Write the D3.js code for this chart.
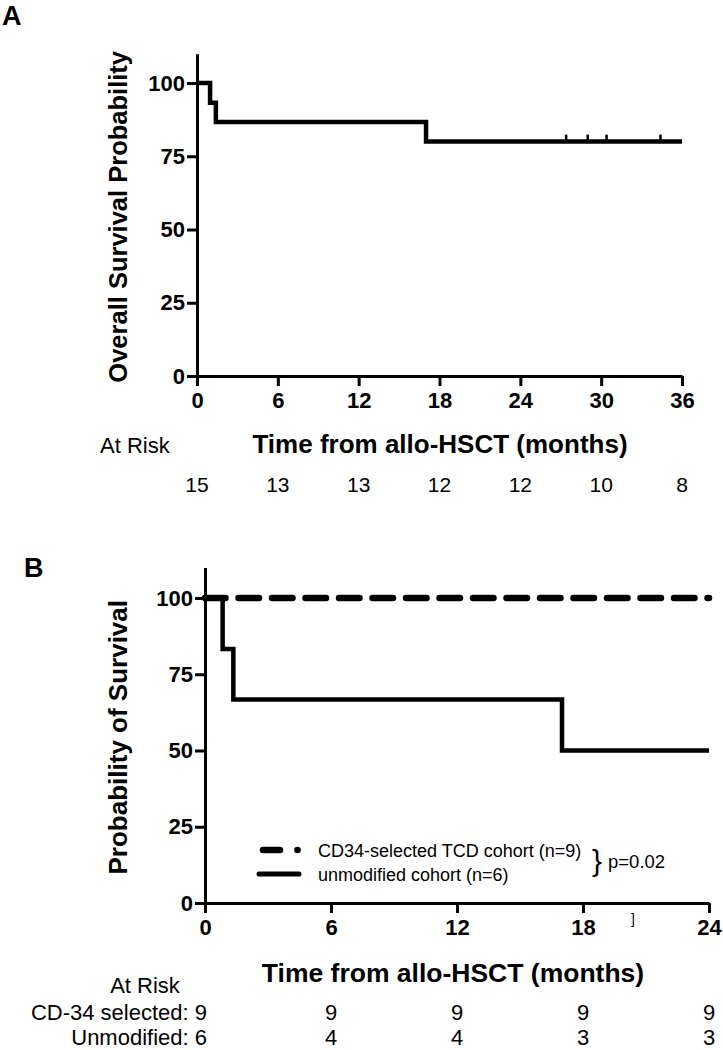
<!DOCTYPE html>
<html>
<head>
<meta charset="utf-8">
<script src="https://cdn.jsdelivr.net/npm/d3@7"></script>
<style>
  html, body { margin: 0; padding: 0; background: #fff; }
  svg { display: block; font-family: "Liberation Sans", Arial, Helvetica, sans-serif; }
</style>
</head>
<body>
<svg id="chart" width="723" height="1050"></svg>
<script>
// ---------- DATA ----------
// Panel A: overall survival (all patients)
const timesA = [0, 0.97, 1.4, 17.0, 36];
const survA = [100, 93.3, 86.7, 80, 80];
const censorA = [27.4, 29.0, 30.4, 34.4];
const xTicksA = [0, 6, 12, 18, 24, 30, 36];
const atRiskA = [15, 13, 13, 12, 12, 10, 8];

// Panel B: by cohort
const timesTCD = [0, 24];
const survTCD = [100, 100];
const timesUnmod = [0, 0.84, 1.35, 17.0, 24];
const survUnmod = [100, 83.3, 66.7, 50, 50];
const xTicksB = [0, 6, 12, 18, 24];
const atRiskCD34 = [9, 9, 9, 9, 9];
const atRiskUnmod = [6, 4, 4, 3, 3];
const riskRowLabels = ["CD-34 selected: ", "Unmodified: "];
const legendLabels = ["CD34-selected TCD cohort (n=9)", "unmodified cohort (n=6)"];
const pValue = "p=0.02";

const yTicks = [0, 25, 50, 75, 100];

// ---------- DRAW ----------
const svg = d3.select("#chart");

function drawAxes(g, x, y, xTicks) {
  const xa = g.append("g")
    .attr("transform", `translate(0,${y(0)})`)
    .call(d3.axisBottom(x).tickValues(xTicks).tickSizeInner(10).tickSizeOuter(0).tickPadding(6));
  const ya = g.append("g")
    .attr("transform", `translate(${x(0)},0)`)
    .call(d3.axisLeft(y).tickValues(yTicks).tickSizeInner(10).tickSizeOuter(0).tickPadding(2));
  [xa, ya].forEach(a => {
    a.select(".domain").attr("stroke", "#000").attr("stroke-width", 3);
    a.selectAll(".tick line").attr("stroke", "#000").attr("stroke-width", 3);
    a.selectAll(".tick text").attr("fill", "#000")
      .style("font-size", "22px").style("font-weight", "bold")
      .style("font-family", '"Liberation Sans", Arial, sans-serif');
  });
  return { xa, ya };
}

// ----- Panel A -----
const xA = d3.scaleLinear().domain([0, 36]).range([197, 682]);
const yA = d3.scaleLinear().domain([0, 110]).range([376, 53.7]);
const gA = svg.append("g");

svg.append("text").attr("x", 2).attr("y", 25)
  .style("font-size", "27px").style("font-weight", "bold").text("A");

drawAxes(gA, xA, yA, xTicksA);

const lineA = d3.line().x(d => xA(d[0])).y(d => yA(d[1])).curve(d3.curveStepAfter);
gA.append("path")
  .datum(timesA.map((t, i) => [t, survA[i]]))
  .attr("d", lineA).attr("fill", "none").attr("stroke", "#000")
  .attr("stroke-width", 4.5).attr("stroke-linejoin", "miter");

// censor marks
function survAt(t) {
  let v = survA[0];
  timesA.forEach((tt, i) => { if (tt <= t) v = survA[i]; });
  return v;
}
gA.selectAll(".cens").data(censorA).enter().append("line")
  .attr("x1", d => xA(d)).attr("x2", d => xA(d))
  .attr("y1", d => yA(survAt(d)) - 7).attr("y2", d => yA(survAt(d)))
  .attr("stroke", "#000").attr("stroke-width", 2.5);

gA.append("text")
  .attr("transform", `translate(127,${(yA(0) + yA(110)) / 2 + 2}) rotate(-90)`)
  .attr("text-anchor", "middle")
  .style("font-size", "25.5px").style("font-weight", "bold")
  .text("Overall Survival Probability");

gA.append("text").attr("x", 440).attr("y", 453).attr("text-anchor", "middle")
  .style("font-size", "26px").style("font-weight", "bold")
  .text("Time from allo-HSCT (months)");
gA.append("text").attr("x", 100).attr("y", 453)
  .style("font-size", "22px").text("At Risk");
gA.selectAll(".riskA").data(atRiskA).enter().append("text")
  .attr("x", (d, i) => xA(xTicksA[i])).attr("y", 492).attr("text-anchor", "middle")
  .style("font-size", "21px").text(d => d);

// ----- Panel B -----
const xB = d3.scaleLinear().domain([0, 24]).range([205, 709]);
const yB = d3.scaleLinear().domain([0, 110]).range([903, 567.5]);
const gB = svg.append("g");

svg.append("text").attr("x", 24).attr("y", 577)
  .style("font-size", "27px").style("font-weight", "bold").text("B");

drawAxes(gB, xB, yB, xTicksB);

const lineB = d3.line().x(d => xB(d[0])).y(d => yB(d[1])).curve(d3.curveStepAfter);
gB.append("path")
  .datum(timesUnmod.map((t, i) => [t, survUnmod[i]]))
  .attr("d", lineB).attr("fill", "none").attr("stroke", "#000")
  .attr("stroke-width", 4.5).attr("stroke-linejoin", "miter");
gB.append("path")
  .datum(timesTCD.map((t, i) => [t, survTCD[i]]))
  .attr("d", lineB).attr("fill", "none").attr("stroke", "#000")
  .attr("stroke-width", 6.5).attr("stroke-linecap", "round")
  .attr("stroke-dasharray", "20.5,13");

gB.append("text")
  .attr("transform", `translate(127,${(yB(0) + yB(110)) / 2 + 2}) rotate(-90)`)
  .attr("text-anchor", "middle")
  .style("font-size", "26px").style("font-weight", "bold")
  .text("Probability of Survival");

// legend
const leg = gB.append("g");
leg.append("line").attr("x1", 263).attr("x2", 280).attr("y1", 850).attr("y2", 850)
  .attr("stroke", "#000").attr("stroke-width", 6.5).attr("stroke-linecap", "round");
leg.append("circle").attr("cx", 297.5).attr("cy", 850).attr("r", 3.3).attr("fill", "#000");
leg.append("line").attr("x1", 259).attr("x2", 299).attr("y1", 874).attr("y2", 874)
  .attr("stroke", "#000").attr("stroke-width", 5).attr("stroke-linecap", "round");
leg.append("text").attr("x", 318).attr("y", 857).style("font-size", "18px").text(legendLabels[0]);
leg.append("text").attr("x", 318).attr("y", 881).style("font-size", "18px").text(legendLabels[1]);
leg.append("text").attr("x", 592).attr("y", 871).style("font-size", "30px").style("font-weight", "300").text("}");
leg.append("text").attr("x", 608).attr("y", 868).style("font-size", "18.5px").text(pValue);
gB.append("text").attr("x", 631).attr("y", 924).style("font-size", "14px").text("]");

gB.append("text").attr("x", 453).attr("y", 982).attr("text-anchor", "middle")
  .style("font-size", "26.5px").style("font-weight", "bold")
  .text("Time from allo-HSCT (months)");
gB.append("text").attr("x", 145).attr("y", 993).attr("text-anchor", "middle")
  .style("font-size", "22px").text("At Risk");
gB.append("text").attr("x", 207).attr("y", 1020).attr("text-anchor", "end")
  .style("font-size", "22px").text(riskRowLabels[0] + atRiskCD34[0]);
gB.append("text").attr("x", 207).attr("y", 1045).attr("text-anchor", "end")
  .style("font-size", "22px").text(riskRowLabels[1] + atRiskUnmod[0]);
gB.selectAll(".riskB1").data(atRiskCD34.slice(1)).enter().append("text")
  .attr("x", (d, i) => xB(xTicksB[i + 1])).attr("y", 1020).attr("text-anchor", "middle")
  .style("font-size", "22px").text(d => d);
gB.selectAll(".riskB2").data(atRiskUnmod.slice(1)).enter().append("text")
  .attr("x", (d, i) => xB(xTicksB[i + 1])).attr("y", 1045).attr("text-anchor", "middle")
  .style("font-size", "22px").text(d => d);
</script>
</body>
</html>
